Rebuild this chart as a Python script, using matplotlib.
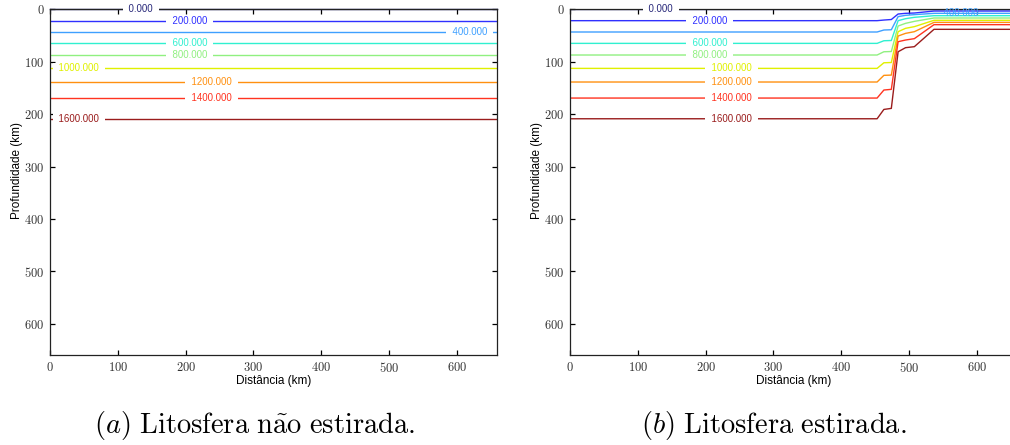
import matplotlib
matplotlib.use("Agg")
import matplotlib.pyplot as plt

plt.rcParams['font.family'] = ['Liberation Sans', 'DejaVu Sans']
plt.rcParams['mathtext.fontset'] = 'cm'

# ---- data ----
levels = [0, 200, 400, 600, 800, 1000, 1200, 1400, 1600]
level_colors = ['#28287a', '#3030ff', '#3fa0ff', '#30f0d0', '#90f080',
                '#e0f000', '#ff9010', '#ff3320', '#9a1c1c']

# (a) unstretched lithosphere: isotherm depths (km), flat
x_a = [0, 660]
depth_a = [0, 21.7, 43.3, 65.0, 87.2, 112.7, 138.7, 169.3, 208.8]

# (b) stretched lithosphere: isotherm depths (km) at distances x_b (km)
x_b = [0, 453, 463, 474, 484, 495, 508, 537, 660]
depth_b = {
    0:    [0, 0, 0, 0, 0, 0, 0, 0, 0],
    200:  [21.7, 21.7, 20.5, 19.5, 9.0, 7.7, 7.1, 3.3, 3.3],
    400:  [43.3, 43.3, 39.5, 39.0, 14.0, 11.5, 10.2, 7.7, 7.7],
    600:  [65.0, 65.0, 60.0, 59.5, 21.7, 17.9, 15.3, 12.2, 12.2],
    800:  [87.2, 87.2, 81.0, 80.5, 31.9, 26.8, 23.0, 16.6, 16.6],
    1000: [112.7, 112.7, 102.0, 101.5, 42.7, 36.3, 33.1, 21.0, 21.0],
    1200: [138.7, 138.7, 126.0, 125.5, 51.0, 45.9, 42.7, 24.9, 24.9],
    1400: [169.3, 169.3, 154.0, 152.7, 61.8, 58.6, 56.0, 29.3, 29.3],
    1600: [208.8, 208.8, 191.0, 189.0, 81.0, 73.2, 71.3, 38.2, 38.2],
}

# label positions (km along x, km depth)
label_pos_a = {0: (134, 0), 200: (206, 21.7), 400: (619, 43.3), 600: (206, 65.0),
               800: (206, 87.2), 1000: (42, 112.7), 1200: (238, 138.7),
               1400: (238, 169.3), 1600: (42, 208.8)}
label_pos_b = {0: (134, 0), 200: (206, 21.7), 400: (577, 7.7), 600: (206, 65.0),
               800: (206, 87.2), 1000: (238, 112.7), 1200: (238, 138.7),
               1400: (238, 169.3), 1600: (238, 208.8)}

x_ticks = [0, 100, 200, 300, 400, 500, 600]
y_ticks = [0, 100, 200, 300, 400, 500, 600]
xlabel = 'Distância (km)'
ylabel = 'Profundidade (km)'
captions = [r'$\mathit{(a)}\ \mathrm{Litosfera\ n\tilde{a}o\ estirada.}$',
            r'$\mathit{(b)}\ \mathrm{Litosfera\ estirada.}$']

fig = plt.figure(figsize=(10.10, 4.45), dpi=100)
W, H = 1010.0, 445.0
ax_w = 447 / W
ax_h = 346 / H
ax_b = (H - 355.3) / H
axA = fig.add_axes([50.3 / W, ax_b, ax_w, ax_h])
axB = fig.add_axes([570.3 / W, ax_b, ax_w, ax_h])


def style(ax):
    ax.set_xlim(0, 660)
    ax.set_ylim(660, 0)
    ax.set_xticks(x_ticks, labels=[f'${t}$' for t in x_ticks])
    ax.set_yticks(y_ticks, labels=[f'${t}$' for t in y_ticks])
    ax.tick_params(direction='in', length=3.5, width=0.9, top=True, right=True,
                   labelsize=9, colors='black', labelcolor='#333333', pad=4)
    for s in ax.spines.values():
        s.set_linewidth(0.9)
        s.set_color('#222222')
    ax.set_xlabel(xlabel, fontsize=8.5, va='top')
    ax.xaxis.set_label_coords(0.5, -0.058)
    ax.set_ylabel(ylabel, fontsize=8.5)
    ax.yaxis.set_label_coords(-0.062, 0.535)


def put_label(ax, lvl, pos, col, box=True):
    txt = f'  {lvl:.3f}  '
    kw = dict(fontsize=7, color=col, ha='center', va='center', zorder=4,
              clip_on=False)
    if box:
        kw['bbox'] = dict(boxstyle='square,pad=0.05', fc='white', ec='none')
    ax.text(pos[0], pos[1], txt, **kw)


style(axA)
style(axB)

for lvl, d, col in zip(levels, depth_a, level_colors):
    axA.plot(x_a, [d, d], color=col, lw=1.0, zorder=2, clip_on=(lvl != 0))
    put_label(axA, lvl, label_pos_a[lvl], col)

for lvl, col in zip(levels, level_colors):
    axB.plot(x_b, depth_b[lvl], color=col, lw=1.0, zorder=2)
    put_label(axB, lvl, label_pos_b[lvl], col, box=(lvl != 400))

fig.text(254.5 / W, (H - 433) / H, captions[0], fontsize=20.5, ha='center',
         va='baseline')
fig.text(773.3 / W, (H - 433) / H, captions[1], fontsize=20.5, ha='center',
         va='baseline')

fig.savefig('out.png', dpi=100)
